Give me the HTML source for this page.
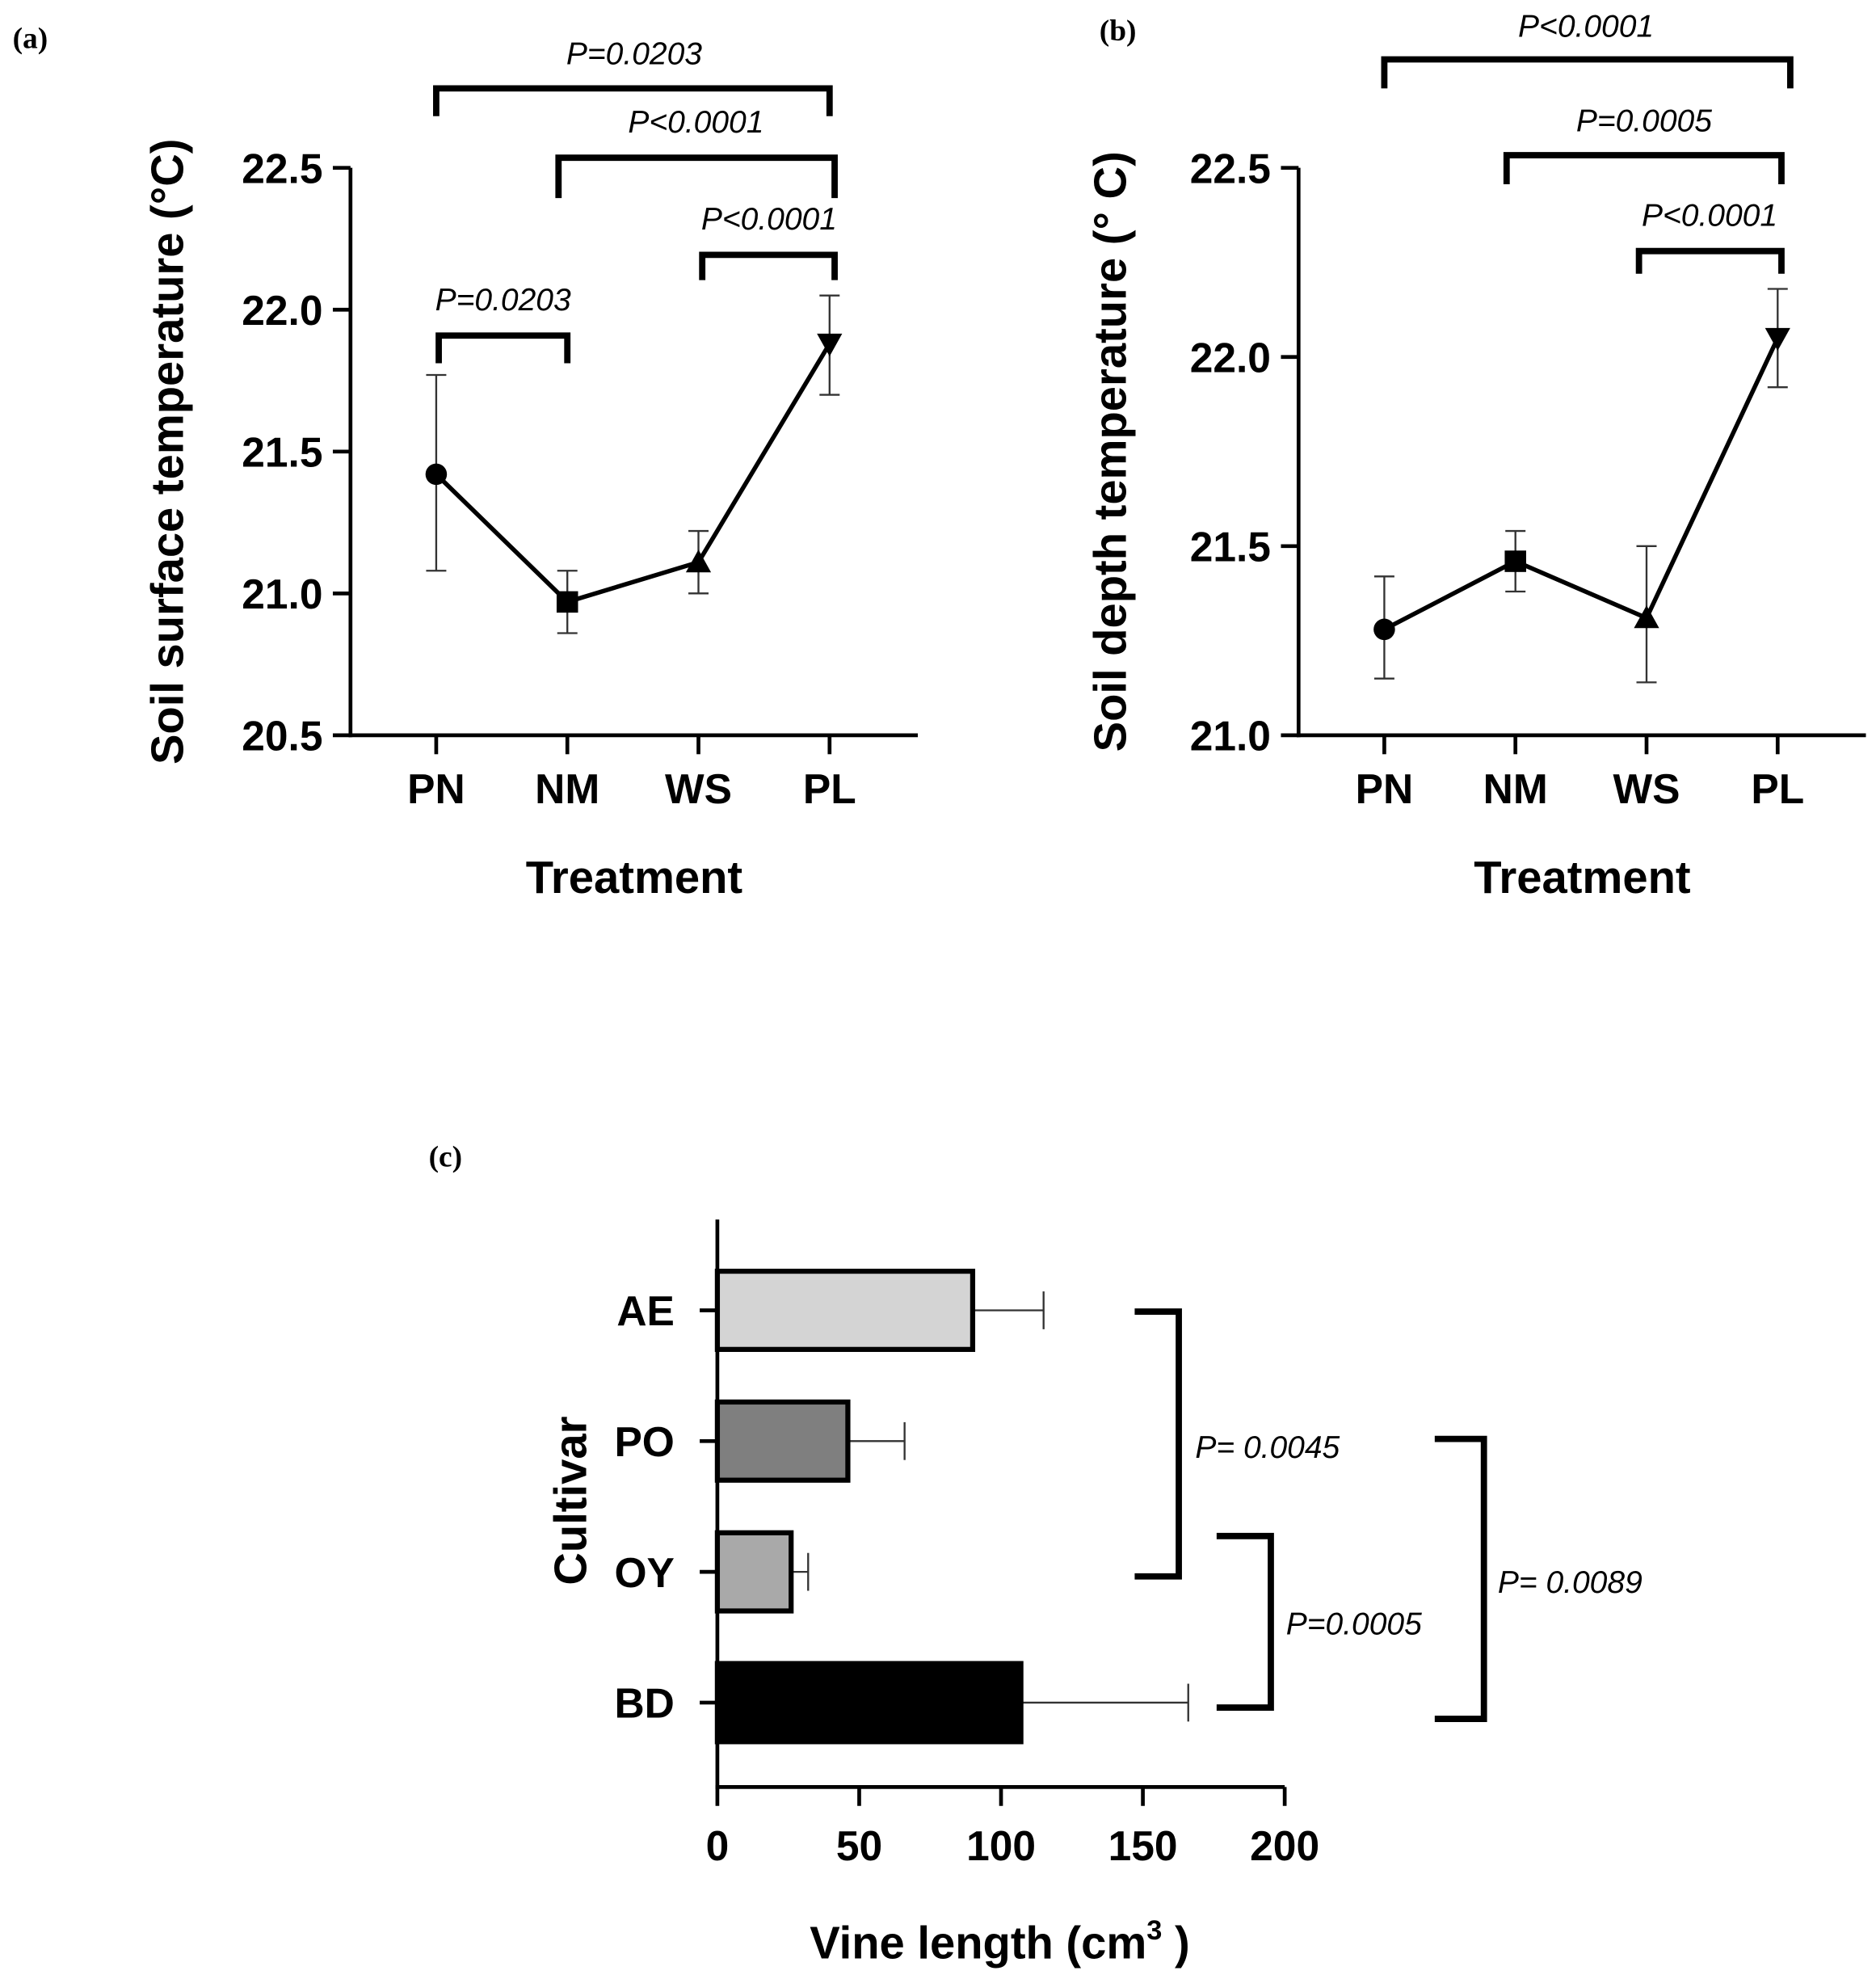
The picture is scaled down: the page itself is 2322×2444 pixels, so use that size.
<!DOCTYPE html>
<html><head><meta charset="utf-8"><style>
html,body{margin:0;padding:0;background:#fff}
svg{display:block}
text{font-family:"Liberation Sans",sans-serif}
.tk{font-weight:bold;font-size:33px}
.pl{font-style:italic;font-size:25px}
.pn{font-family:"Liberation Serif",serif;font-weight:bold;font-size:24px}
</style></head><body>
<svg id="fig" width="2322" height="2444" viewBox="0 0 1488 1566" xmlns="http://www.w3.org/2000/svg">
<g id="ga"></g>
<g id="gb"></g>
<g id="gc"></g>
</svg>
<script>
const treatments=["PN","NM","WS","PL"];
const surfMean=[21.42,20.97,21.11,21.88];
const surfLo=[21.08,20.86,21.00,21.70];
const surfHi=[21.77,21.08,21.22,22.05];
const depthMean=[21.28,21.46,21.31,22.05];
const depthLo=[21.15,21.38,21.14,21.92];
const depthHi=[21.42,21.54,21.50,22.18];
const surfTicks=[20.5,21.0,21.5,22.0,22.5];
const depthTicks=[21.0,21.5,22.0,22.5];
const cultivars=["AE","PO","OY","BD"];
const vineMean=[90,46,26,107];
const vineErr=[115,66,32,166];
const vineTicks=[0,50,100,150,200];
const NS="http://www.w3.org/2000/svg";
function mk(p,tag,at,txt){const e=document.createElementNS(NS,tag);for(const k in at)e.setAttribute(k,at[k]);if(txt!==undefined)e.textContent=txt;p.appendChild(e);return e;}
function line(p,x1,y1,x2,y2,w,c){return mk(p,"line",{x1,y1,x2,y2,stroke:c||"#000","stroke-width":w});}
function bracketH(p,x1,x2,y,legs,label,lx,ly){
 const g=mk(p,"g",{});
 
 
 mk(g,"path",{d:`M${x1},${legs} V${y} H${x2} V${legs}`,fill:"none",stroke:"#000","stroke-width":5});
 mk(g,"text",{x:lx,y:ly,"text-anchor":"middle",class:"pl"},label);
}
function bracketV(p,x,y1,y2,xa,label,lx,ly){
 const g=mk(p,"g",{});
 
 
 mk(g,"path",{d:`M${xa},${y1} H${x} V${y2} H${xa}`,fill:"none",stroke:"#000","stroke-width":5});
 mk(g,"text",{x:lx,y:ly,class:"pl"},label);
}
function marker(p,i,x,y){
 let e;
 if(i==0)e=mk(p,"circle",{cx:x,cy:y,r:8.5});
 else if(i==1)e=mk(p,"rect",{x:x-8.5,y:y-8.5,width:17,height:17});
 else if(i==2)e=mk(p,"path",{d:`M${x},${y-10} L${x+10},${y+8} L${x-10},${y+8}Z`});
 else e=mk(p,"path",{d:`M${x},${y+10} L${x+10},${y-8} L${x-10},${y-8}Z`});
 
 
}
function linePanel(g,ax,ymin,ymax,ticks,mean,lo,hi,ytitle,ytx,xt){
 const top=133,bot=583,x0=ax,x1=ax+450;
 const Y=v=>bot-(v-ymin)/(ymax-ymin)*(bot-top);
 const X=i=>ax+68+i*104;
 line(g,x0,top,x0,bot+1.5,3);line(g,x0-1.5,bot,x1,bot,3);
 ticks.forEach(t=>{line(g,x0-14,Y(t),x0,Y(t),3);
  const tl=mk(g,"text",{x:x0-22,y:Y(t)+12,"text-anchor":"end",class:"tk"},t.toFixed(1));
  });
 treatments.forEach((c,i)=>{line(g,X(i),bot,X(i),bot+15,3);
  const tl=mk(g,"text",{x:X(i),y:bot+54,"text-anchor":"middle",class:"tk"},c);
  });
 const pts=mean.map((v,i)=>X(i)+","+Y(v)).join(" ");
 const pl=mk(g,"polyline",{points:pts,fill:"none",stroke:"#000","stroke-width":3.5});
 
 mean.forEach((v,i)=>{const x=X(i);
  line(g,x,Y(lo[i]),x,Y(hi[i]),1.5,"#333");line(g,x-8,Y(lo[i]),x+8,Y(lo[i]),1.5,"#333");line(g,x-8,Y(hi[i]),x+8,Y(hi[i]),1.5,"#333");
  marker(g,i,x,Y(v));});
 const yt=mk(g,"text",{x:0,y:0,transform:`translate(${ytx},358) rotate(-90)`,"text-anchor":"middle","font-weight":"bold","font-size":"36px"},ytitle);
 
 const xtt=mk(g,"text",{x:xt,y:708,"text-anchor":"middle","font-weight":"bold","font-size":"36px"},"Treatment");
 
}
const ga=document.getElementById("ga"),gb=document.getElementById("gb"),gc=document.getElementById("gc");
mk(ga,"text",{x:10,y:38,class:"pn"},"(a)");
linePanel(ga,278,20.5,22.5,surfTicks,surfMean,surfLo,surfHi,"Soil surface temperature (°C)",145,503);
bracketH(ga,346,658,70,92,"P=0.0203",503,51);
bracketH(ga,443,662,125,157,"P<0.0001",552,105);
bracketH(ga,557,662,202,222,"P<0.0001",610,182);
bracketH(ga,348,450,266,288,"P=0.0203",399,246);
mk(gb,"text",{x:872,y:32,class:"pn"},"(b)");
linePanel(gb,1030,21.0,22.5,depthTicks,depthMean,depthLo,depthHi,"Soil depth temperature (° C)",893,1255);
bracketH(gb,1098,1420,47,70,"P<0.0001",1258,29);
bracketH(gb,1195,1413,123,146,"P=0.0005",1304,104);
bracketH(gb,1300,1413,199,217,"P<0.0001",1356,179);
// panel c
mk(gc,"text",{x:340,y:925,class:"pn"},"(c)");
const cx0=569,cbot=1417,ctop=967,cw=450;
const XV=v=>cx0+v/200*cw;
const YC=i=>1039+i*103.7;
const colors=["#d4d4d4","#7f7f7f","#a9a9a9","#000"];
line(gc,cx0,ctop,cx0,cbot+1.5,3);line(gc,cx0-1.5,cbot,cx0+cw,cbot,3);
vineTicks.forEach(t=>{line(gc,XV(t),cbot,XV(t),cbot+15,3);
 const tl=mk(gc,"text",{x:XV(t),y:cbot+58,"text-anchor":"middle",class:"tk"},t);
 });
cultivars.forEach((c,i)=>{const y=YC(i);
 line(gc,cx0-14,y,cx0,y,3);
 const tl=mk(gc,"text",{x:535,y:y+12,"text-anchor":"end",class:"tk"},c);
 
 line(gc,XV(vineMean[i]),y,XV(vineErr[i]),y,1.5,"#333");line(gc,XV(vineErr[i]),y-15,XV(vineErr[i]),y+15,1.5,"#333");
 const b=mk(gc,"rect",{x:cx0,y:y-31,width:XV(vineMean[i])-cx0,height:62,fill:colors[i],stroke:"#000","stroke-width":4});
 });
const ytc=mk(gc,"text",{x:0,y:0,transform:"translate(465,1190) rotate(-90)","text-anchor":"middle","font-weight":"bold","font-size":"36px"},"Cultivar");

const xtc=mk(gc,"text",{x:793,y:1553,"text-anchor":"middle","font-weight":"bold","font-size":"36px"});

xtc.textContent="Vine length (cm";
mk(xtc,"tspan",{dy:-15,"font-size":"22px"},"3");
mk(xtc,"tspan",{dy:15}," )");
bracketV(gc,935,1040,1250,900,"P= 0.0045",948,1156);
bracketV(gc,1008,1218,1354,965,"P=0.0005",1020,1296);
bracketV(gc,1177,1141,1363,1138,"P= 0.0089",1188,1263);
</script>
</body></html>
